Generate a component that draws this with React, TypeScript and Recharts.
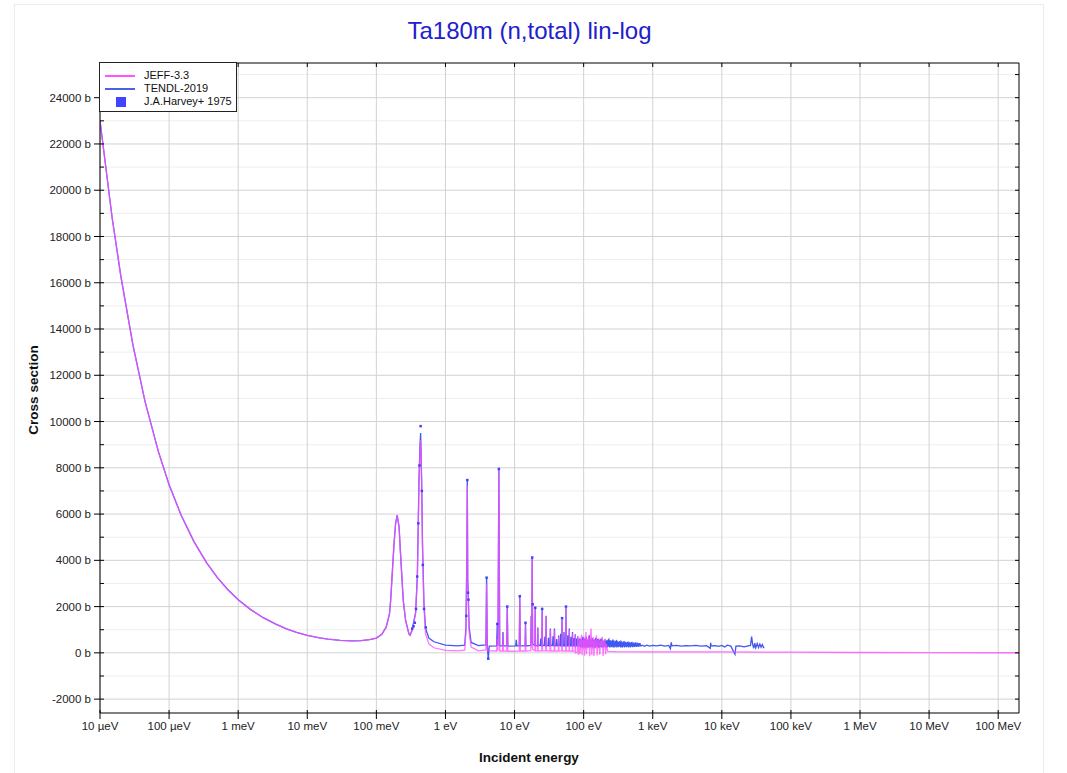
import {CartesianGrid, ComposedChart, Line, Scatter, XAxis, YAxis} from 'recharts';

const energyTicks = [1e-5, 1e-4, 1e-3, 1e-2, 1e-1, 1, 10, 100, 1e3, 1e4, 1e5, 1e6, 1e7, 1e8];
const energyTickLabels = [
  '10 µeV', '100 µeV', '1 meV', '10 meV', '100 meV', '1 eV', '10 eV',
  '100 eV', '1 keV', '10 keV', '100 keV', '1 MeV', '10 MeV', '100 MeV',
];
const yMajorTicks = [-2000, 0, 2000, 4000, 6000, 8000, 10000, 12000, 14000, 16000, 18000, 20000, 22000, 24000];
const yMinorTicks = [-1000, 1000, 3000, 5000, 7000, 9000, 11000, 13000, 15000, 17000, 19000, 21000, 23000, 25000];
const yAllTicks = [
  -2000, -1000, 0, 1000, 2000, 3000, 4000, 5000, 6000, 7000, 8000, 9000, 10000, 11000, 12000,
  13000, 14000, 15000, 16000, 17000, 18000, 19000, 20000, 21000, 22000, 23000, 24000, 25000,
];

// [energy in eV, cross section in b]
const thermalPoints: [number, number][] = [
  [1e-5, 23000], [1.5e-5, 18800], [2e-5, 16300], [3e-5, 13300], [4.5e-5, 10850], [7e-5, 8700],
  [1e-4, 7270], [1.5e-4, 5940], [2.3e-4, 4800], [3.5e-4, 3890], [5e-4, 3250], [7e-4, 2750],
  [1e-3, 2300], [1.5e-3, 1880], [2.3e-3, 1520], [3.5e-3, 1240], [5e-3, 1040], [7e-3, 890],
  [1e-2, 760], [1.5e-2, 650], [2e-2, 590], [3e-2, 540], [4.5e-2, 515], [6e-2, 525], [8e-2, 570],
  [0.1, 640], [0.12, 800], [0.139, 1120], [0.155, 1700], [0.161, 2270], [0.18, 4700], [0.19, 5600],
  [0.2, 5950], [0.213, 5450], [0.225, 4150], [0.245, 2270], [0.265, 1400], [0.296, 820], [0.307, 760],
];

const jeffResonancePoints: [number, number][] = [
  [0.33, 970], [0.37, 1700], [0.392, 3280], [0.414, 7330], [0.428, 8770], [0.437, 9200], [0.452, 7330],
  [0.466, 4440], [0.488, 1980], [0.515, 820], [0.575, 390], [0.68, 220], [1.0, 110], [1.5, 90],
  [1.9, 120], [1.98, 900], [2.04, 4000], [2.07, 7250], [2.1, 3000], [2.14, 2200], [2.2, 900], [2.35, 250],
  [3.0, 90], [3.85, 130], [3.94, 3000], [4.03, 100], [5.5, 80], [5.62, 600], [5.75, 90], [5.93, 7900],
  [6.1, 80], [6.7, 80], [6.8, 800], [6.9, 80], [7.7, 80], [7.84, 1900], [8.0, 70], [11.7, 80],
  [11.9, 2350], [12.1, 80], [14.2, 80], [14.4, 1200], [14.6, 80], [17.2, 100], [17.4, 1550], [17.7, 200],
  [18.0, 4050], [18.3, 150], [19.7, 90], [19.9, 1850], [20.1, 90], [21.5, 80], [21.7, 1050], [21.9, 80],
  [24.8, 90], [25.1, 1800], [25.4, 90], [28.3, 90], [28.6, 1550], [28.9, 90], [32.6, 80], [33, 1000],
  [33.4, 80], [37.4, 80], [37.8, 1000], [38.2, 80], [43, 80], [43.5, 700], [44, 80], [48.2, 90],
  [48.7, 1400], [49.2, 80], [55, 90], [55.5, 1900], [56, 80], [61.5, 80], [62, 1000], [62.5, 80],
  [68.5, 80], [69, 850], [69.5, 60], [75, 70], [75.7, 780], [76.4, 0], [81.5, 40], [82, 700], [83, 20],
  [85, -80], [87, 650], [89, -40], [91, 420], [93, 780], [95, -100], [97, 560], [99, 150], [101, 700],
  [103, -120], [106, 480], [108, 900], [110, -60], [113, 620], [116, 200], [119, 750], [122, -150],
  [125, 540], [128, 1050], [131, -90], [134, 400], [137, 680], [141, -130], [145, 560], [149, 220],
  [153, 760], [157, -110], [161, 480], [166, 620], [171, -80], [176, 520], [181, 300], [186, 700],
  [191, -140], [196, 450], [202, 580], [208, -60], [214, 380], [220, 150], [223, 60],
];

const jeffFastPoints: [number, number][] = [
  [300, 50], [1000, 45], [1e4, 40], [1e5, 30], [1e6, 15], [1e7, 8], [1e8, 5], [2e8, 5],
];

const tendlResonancePoints: [number, number][] = [
  [0.33, 1000], [0.37, 1750], [0.392, 3350], [0.414, 7500], [0.428, 9000], [0.437, 9500], [0.452, 7500],
  [0.466, 4600], [0.488, 2150], [0.515, 1050], [0.575, 640], [0.68, 480], [1.0, 330], [1.5, 300],
  [1.9, 330], [1.98, 1100], [2.04, 4200], [2.07, 7450], [2.1, 3200], [2.14, 2500], [2.2, 1100], [2.35, 450],
  [3.0, 310], [3.85, 340], [3.94, 3250], [4.03, 300], [4.16, -250], [4.3, 290], [5.5, 300], [5.62, 1250],
  [5.75, 310], [5.93, 7950], [6.1, 300], [6.7, 300], [6.8, 900], [6.9, 300], [7.7, 300], [7.84, 2000],
  [8.0, 290], [10.4, 300], [10.6, 560], [10.8, 300], [11.7, 300], [11.9, 2450], [12.1, 300], [14.2, 300],
  [14.4, 1250], [14.6, 300], [17.2, 320], [17.4, 1600], [17.7, 400], [18.0, 4120], [18.3, 380], [19.7, 320],
  [19.9, 1900], [20.1, 310], [21.5, 300], [21.7, 1100], [21.9, 300], [23.5, 330], [24, 620], [24.5, 300],
  [24.8, 310], [25.1, 1850], [25.4, 300], [27, 330], [27.5, 700], [28, 300], [28.3, 320], [28.6, 1600],
  [28.9, 300], [30.5, 320], [31, 650], [31.5, 300], [32.6, 300], [33, 1050], [33.4, 310], [35.5, 330],
  [36, 720], [36.5, 300], [37.4, 300], [37.8, 1050], [38.2, 300], [40, 330], [40.6, 600], [41.2, 300],
  [43, 320], [43.5, 750], [44, 310], [46, 330], [46.5, 820], [47, 300], [48.2, 320], [48.7, 1450],
  [49.2, 300], [51.5, 330], [52, 900], [52.5, 300], [55, 330], [55.5, 1950], [56, 300], [58.5, 330],
  [59, 760], [59.5, 300], [61.5, 320], [62, 1050], [62.5, 300], [65, 320], [65.6, 700], [66.2, 300],
  [68.5, 330], [69, 900], [69.5, 300], [72, 330], [72.5, 640], [73, 300], [75, 320], [75.7, 800],
  [76.4, 280], [78.5, 330], [79, 620], [79.5, 300], [81.5, 300], [82, 720], [83, 270],
];

const tendlUnresolvedPoints: [number, number][] = [
  [85, 560], [86, 300], [87, 620], [88, 260], [89, 540], [90, 610], [91, 280], [92, 300], [93, 580],
  [94, 480], [95, 260], [96, 250], [97, 640], [98, 700], [99, 270], [100, 280], [101, 600], [103, 560],
  [104, 260], [106, 240], [107, 580], [109, 620], [110, 270], [112, 290], [113, 560], [115, 500],
  [116, 250], [118, 250], [119, 640], [121, 760], [122, 270], [124, 280], [125, 560], [127, 540],
  [128, 260], [130, 260], [132, 620], [134, 600], [136, 270], [138, 300], [140, 580], [142, 520],
  [144, 250], [146, 240], [148, 600], [150, 640], [152, 270], [155, 280], [157, 580], [160, 560],
  [162, 260], [165, 250], [167, 540], [170, 500], [172, 270], [175, 290], [177, 560], [180, 620],
  [183, 260], [186, 260], [189, 520], [192, 480], [195, 270], [198, 300], [201, 540], [204, 560],
  [207, 260], [210, 250], [213, 500], [217, 520], [220, 270], [224, 300], [227, 540], [231, 580],
  [234, 270], [238, 260], [242, 520], [246, 500], [250, 270], [254, 280], [258, 520], [262, 540],
  [266, 260], [270, 260], [275, 500], [279, 470], [284, 270], [288, 290], [292, 500], [297, 520],
  [302, 260], [307, 270], [312, 480], [317, 460], [322, 270], [327, 280], [332, 480], [338, 500],
  [343, 260], [349, 260], [355, 470], [360, 450], [366, 270], [372, 290], [378, 470], [384, 480],
  [390, 260], [397, 270], [403, 450], [410, 440], [417, 270], [424, 280], [431, 450], [438, 460],
  [445, 260], [452, 270], [460, 440], [467, 430], [475, 270], [483, 290], [491, 440], [499, 450],
  [507, 270], [516, 270], [524, 420], [533, 420], [542, 280], [551, 280], [560, 420], [570, 430],
  [580, 280], [590, 290], [600, 410], [610, 410], [620, 280], [630, 280], [642, 400], [655, 400],
  [668, 300], [680, 300], [700, 330], [760, 280], [820, 330], [900, 290], [1000, 320], [1150, 300],
  [1300, 330], [1500, 290], [1700, 320], [1800, 180], [1850, 450], [1900, 300], [2200, 320], [2600, 290],
  [3000, 310], [3500, 300], [4200, 320], [5000, 290], [6000, 310], [6800, 200], [6900, 430], [7000, 300],
  [8000, 310], [9000, 280], [10000, 320], [11000, 250], [12000, 330], [13500, 290], [15500, -60],
  [16000, 290], [18000, 300], [21000, 260], [24000, 300], [26000, 320], [27000, 700], [28000, 350],
  [29000, 200], [30000, 420], [31000, 220], [32500, 400], [34000, 230], [35500, 380], [37000, 240],
  [38500, 360], [40000, 250], [41000, 200],
];

const harveyPoints: [number, number][] = [
  [0.33, 1050], [0.345, 1150], [0.36, 1300], [0.375, 1900], [0.39, 3300], [0.405, 5600], [0.42, 8100],
  [0.437, 9800], [0.455, 7000], [0.47, 3800], [0.49, 1900], [0.52, 1100], [2.0, 1600], [2.07, 7470],
  [2.12, 2600], [2.15, 2300], [3.94, 3250], [4.16, -250], [5.62, 1250], [5.93, 7950], [7.84, 2000],
  [11.9, 2450], [14.4, 1300], [18.0, 4120], [18.3, 2100], [19.9, 1950], [25.1, 1900], [48.7, 1500],
  [55.5, 2000],
];

const toRows = (pts: [number, number][]) => pts.map(([e, xs]) => ({e, xs}));

const jeffData = toRows([...thermalPoints, ...jeffResonancePoints, ...jeffFastPoints]);
const tendlData = toRows([...thermalPoints, ...tendlResonancePoints, ...tendlUnresolvedPoints]);
const harveyData = toRows(harveyPoints);

const FONT = '"Liberation Sans", Arial, sans-serif';
const TICK = 6;
const GAP = 3;

function LeftTick({x, y, payload}: any) {
  const v = payload.value;
  const major = v % 2000 === 0;
  const ax = x + TICK + GAP;
  return (
    <g>
      <line x1={major ? ax - 6 : ax} x2={ax + 4} y1={y} y2={y} stroke="#000" />
      {major && (
        <text x={x} y={y} dy="0.35em" textAnchor="end" fontSize={11.5} fill="#222" fontFamily={FONT}>
          {`${v} b`}
        </text>
      )}
    </g>
  );
}

function RightTick({x, y}: any) {
  const ax = x - TICK - GAP;
  return <line x1={ax - 4} x2={ax} y1={y} y2={y} stroke="#000" />;
}

function BottomTick({x, y, payload}: any) {
  const ay = y - TICK - GAP;
  const label = energyTickLabels[energyTicks.indexOf(payload.value)];
  return (
    <g>
      <line x1={x} x2={x} y1={ay - 3} y2={ay + 6} stroke="#000" />
      <text x={x} y={y} dy="0.71em" textAnchor="middle" fontSize={11.5} fill="#222" fontFamily={FONT}>
        {label}
      </text>
    </g>
  );
}

function TopTick({x, y}: any) {
  const ay = y + TICK + GAP;
  return <line x1={x} x2={x} y1={ay} y2={ay + 4} stroke="#000" />;
}

const square = ({cx, cy}: any) => (
  <rect x={cx - 1.25} y={cy - 1.25} width={2.5} height={2.5} fill="#4343ff" />
);

export default function App() {
  return (
    <div style={{position: 'absolute', left: 0, top: 0, width: 1067, height: 773, background: '#fff', fontFamily: FONT}}>
      <div style={{position: 'absolute', left: 14, top: 4, width: 1028, height: 790, border: '1px solid #ececec'}} />
      <div style={{position: 'absolute', left: 0, width: 1059, top: 17, textAlign: 'center', fontSize: 24, color: '#2020cc'}}>
        Ta180m (n,total) lin-log
      </div>
      <ComposedChart
        width={1067}
        height={773}
        margin={{top: 59, right: 40, bottom: 30, left: 40}}
        style={{position: 'absolute', left: 0, top: 0}}
      >
        <CartesianGrid
          horizontal
          vertical={false}
          horizontalValues={yMinorTicks}
          stroke="#eeeeee"
        />
        <CartesianGrid
          horizontal
          vertical
          horizontalValues={yMajorTicks}
          verticalValues={energyTicks}
          stroke="#d2d2d2"
        />
        <XAxis
          dataKey="e"
          type="number"
          scale="log"
          domain={[1e-5, 2e8]}
          allowDataOverflow
          ticks={energyTicks}
          interval={0}
          height={30}
          tickSize={TICK}
          tickMargin={GAP}
          tickLine={{stroke: 'transparent'}}
          axisLine={{stroke: '#000'}}
          tick={<BottomTick />}
        />
        <XAxis
          xAxisId="top"
          orientation="top"
          dataKey="e"
          type="number"
          scale="log"
          domain={[1e-5, 2e8]}
          allowDataOverflow
          ticks={energyTicks}
          interval={0}
          height={4}
          tickSize={TICK}
          tickMargin={GAP}
          tickLine={{stroke: 'transparent'}}
          axisLine={{stroke: '#000'}}
          tick={<TopTick />}
        />
        <YAxis
          type="number"
          domain={[-2600, 25500]}
          allowDataOverflow
          ticks={yAllTicks}
          interval={0}
          width={60}
          tickSize={TICK}
          tickMargin={GAP}
          tickLine={{stroke: 'transparent'}}
          axisLine={{stroke: '#000'}}
          tick={<LeftTick />}
        />
        <YAxis
          yAxisId="right"
          orientation="right"
          type="number"
          domain={[-2600, 25500]}
          allowDataOverflow
          ticks={yAllTicks}
          interval={0}
          width={8}
          tickSize={TICK}
          tickMargin={GAP}
          tickLine={{stroke: 'transparent'}}
          axisLine={{stroke: '#000'}}
          tick={<RightTick />}
        />
        <Line
          data={tendlData}
          dataKey="xs"
          type="linear"
          stroke="#4058f0"
          strokeWidth={1.3}
          dot={false}
          isAnimationActive={false}
        />
        <Line
          data={jeffData}
          dataKey="xs"
          type="linear"
          stroke="#ff50ff"
          strokeOpacity={0.78}
          strokeWidth={1.3}
          dot={false}
          isAnimationActive={false}
        />
        <Scatter data={harveyData} dataKey="xs" shape={square} isAnimationActive={false} />
      </ComposedChart>
      <div style={{position: 'absolute', left: 99, top: 62, width: 136, height: 48, border: '1px solid #222', background: '#fff', fontSize: 11, lineHeight: '13px', color: '#111'}}>
        <div style={{position: 'absolute', left: 5, top: 12, width: 30, height: 2, background: '#ff55ff'}} />
        <div style={{position: 'absolute', left: 44, top: 6}}>JEFF-3.3</div>
        <div style={{position: 'absolute', left: 5, top: 25, width: 30, height: 2, background: '#4466dd'}} />
        <div style={{position: 'absolute', left: 44, top: 19}}>TENDL-2019</div>
        <div style={{position: 'absolute', left: 16, top: 34, width: 10, height: 10, background: '#4343ff'}} />
        <div style={{position: 'absolute', left: 44, top: 32}}>J.A.Harvey+ 1975</div>
      </div>
      <div style={{position: 'absolute', left: 33, top: 390, transform: 'translate(-50%, -50%) rotate(-90deg)', fontSize: 13.5, fontWeight: 'bold', whiteSpace: 'nowrap', color: '#111'}}>
        Cross section
      </div>
      <div style={{position: 'absolute', left: 529, top: 757, transform: 'translate(-50%, -50%)', fontSize: 13.5, fontWeight: 'bold', whiteSpace: 'nowrap', color: '#111'}}>
        Incident energy
      </div>
    </div>
  );
}
